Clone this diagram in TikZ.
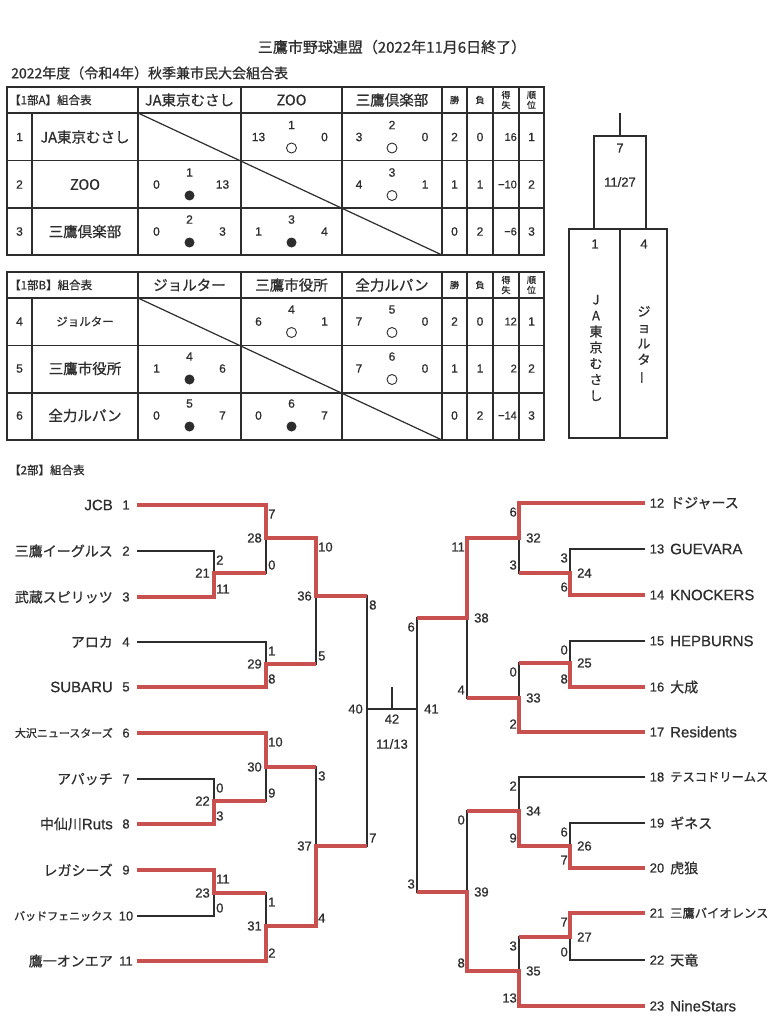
\documentclass[tikz,border=0pt]{standalone}
\usepackage{fontspec}
\setmainfont{Liberation Sans}[FakeBold=0.7]
\newfontfamily\jp{Noto Sans CJK JP}[FakeBold=0.7]
\usetikzlibrary{calc}
\definecolor{ink}{RGB}{45,45,45}
\definecolor{winred}{RGB}{200,80,78}
\newcommand\lat{\normalfont\fontsize{15}{15}\selectfont}
\newcommand\sm{\fontsize{11}{11}\selectfont}
\newcommand\nar{\fontsize{12.3}{12.3}\selectfont}
\tikzset{
	txt/.style={text=ink, inner sep=0pt},
	sc/.style={txt, font=\fontsize{12}{12}\selectfont},
	gno/.style={txt, font=\fontsize{13}{13}\selectfont},
	tname/.style={txt, font=\jp\fontsize{14}{14}\selectfont},
	hdr/.style={txt, font=\jp\fontsize{14.5}{14.5}\selectfont},
	mini/.style={txt, font=\jp\fontsize{9}{10}\selectfont, align=center},
	tabline/.style={line width=1.2pt, draw=ink},
	ln/.style={line width=1.1pt, draw=ink},
	win/.style={line width=3.8pt, draw=winred},
	won/.style={circle, draw=ink, line width=0.9pt, minimum size=10pt, inner sep=0pt},
	lost/.style={circle, fill=ink, minimum size=10pt, inner sep=0pt},
}
% table frame, #1 = top
\newcommand\tabframe[1]{%
	\draw[tabline] (7,#1) rectangle (544,#1+168);
	\draw[tabline] (7,#1+26) -- (544,#1+26);
	\draw[tabline] (7,#1+73.5) -- (544,#1+73.5);
	\draw[tabline] (7,#1+121) -- (544,#1+121);
	\draw[tabline] (32,#1+26) -- (32,#1+168);
	\foreach \cx in {138,241,342,442,467,493,519} \draw[tabline] (\cx,#1) -- (\cx,#1+168);
	\draw[tabline] (138,#1+26) -- (442,#1+168);
}
% one game cell: name, cx, cy, left, game, right, mark
\newcommand\game[7]{%
	\node[sc] (#1-no) at (#2,#3-12) {#5};
	\node[sc] (#1-l) at (#2-33,#3) {#4};
	\node[sc] (#1-r) at (#2+33,#3) {#6};
	\node[#7] (#1-mk) at (#2,#3+11) {};
}
\newcommand\stats[6]{%
	\node[sc] (#1-w) at (454.5,#2) {#3};
	\node[sc] (#1-d) at (480,#2) {#4};
	\node[sc, font=\fontsize{11}{11}\selectfont, anchor=east] (#1-p) at (517,#2) {#5};
	\node[sc] (#1-k) at (531.5,#2) {#6};
}
% teams of the bracket
\newcommand\lteam[3]{%
	\coordinate (t#1) at (137,#2);
	\node[gno] (tn#1) at (126,#2) {#1};
	\node[tname, anchor=east] (tm#1) at (113,#2) {#3};
}
\newcommand\rteam[3]{%
	\coordinate (t#1) at (645,#2);
	\node[gno] (tn#1) at (657,#2) {#1};
	\node[tname, anchor=west] (tm#1) at (670,#2) {#3};
}
% games of the bracket: x, top y, join y, bottom y, game, top score, bottom score
\newcommand\lbout[7]{%
	\coordinate (m#5) at (#1,#3);
	\node[gno, anchor=east] (g#5) at (#1-4,#3) {#5};
	\node[gno, anchor=west] (g#5a) at (#1+2,#2+9) {#6};
	\node[gno, anchor=west] (g#5b) at (#1+2,#4-8) {#7};
}
\newcommand\rbout[7]{%
	\coordinate (m#5) at (#1,#3);
	\node[gno, anchor=west] (g#5) at (#1+7,#3) {#5};
	\node[gno, anchor=east] (g#5a) at (#1-2,#2+9) {#6};
	\node[gno, anchor=east] (g#5b) at (#1-2,#4-8) {#7};
}

\begin{document}
\begin{tikzpicture}[x=1pt,y=-1pt]
		%%%%% START %%%%%
		\fill[white] (0,0) rectangle (771,1024);
		\useasboundingbox (0,0) rectangle (771,1024);
		
		\node[txt, font=\jp\fontsize{15}{15}\selectfont] (title) at (392,47) {三鷹市野球連盟（2022年11月6日終了）};
		\node[txt, font=\jp\fontsize{14}{14}\selectfont, anchor=west] (subtitle) at (11,73) {2022年度（令和4年）秋季兼市民大会組合表};
		
		%%%%% 1部A %%%%%
		\tabframe{87}
		\node[txt, font=\jp\fontsize{11.5}{11.5}\selectfont, anchor=west] (ahead) at (9,100) {【1部A】組合表};
		\node[hdr] (ac1) at (189.5,100) {JA東京むさし};
		\node[hdr] (ac2) at (291.5,100) {ZOO};
		\node[hdr] (ac3) at (392,100) {三鷹倶楽部};
		\node[mini] (awin) at (454.5,100) {勝};
		\node[mini] (alose) at (480,100) {負};
		\node[mini] (adiff) at (506,100) {得\\失};
		\node[mini] (arank) at (531.5,100) {順\\位};
		
		\node[sc] (a1) at (19.5,137) {1};
		\node[hdr] (a1nm) at (85,137) {JA東京むさし};
		\game{a12}{291.5}{137}{13}{1}{0}{won}
		\game{a13}{392}{137}{3}{2}{0}{won}
		\stats{a1}{137}{2}{0}{16}{1}
		
		\node[sc] (a2) at (19.5,184.5) {2};
		\node[hdr] (a2nm) at (85,184.5) {ZOO};
		\game{a21}{189.5}{184.5}{0}{1}{13}{lost}
		\game{a23}{392}{184.5}{4}{3}{1}{won}
		\stats{a2}{184.5}{1}{1}{−10}{2}
		
		\node[sc] (a3) at (19.5,231.5) {3};
		\node[hdr] (a3nm) at (85,231.5) {三鷹倶楽部};
		\game{a31}{189.5}{231.5}{0}{2}{3}{lost}
		\game{a32}{291.5}{231.5}{1}{3}{4}{lost}
		\stats{a3}{231.5}{0}{2}{−6}{3}
		
		%%%%% 1部B %%%%%
		\tabframe{272}
		\node[txt, font=\jp\fontsize{11.5}{11.5}\selectfont, anchor=west] (bhead) at (9,285) {【1部B】組合表};
		\node[hdr] (bc1) at (189.5,285) {ジョルター};
		\node[hdr] (bc2) at (291.5,285) {三鷹市役所};
		\node[hdr] (bc3) at (392,285) {全力ルパン};
		\node[mini] (bwin) at (454.5,285) {勝};
		\node[mini] (blose) at (480,285) {負};
		\node[mini] (bdiff) at (506,285) {得\\失};
		\node[mini] (brank) at (531.5,285) {順\\位};
		
		\node[sc] (b4) at (19.5,321.5) {4};
		\node[hdr, font=\jp\fontsize{11.5}{11.5}\selectfont] (b4nm) at (85,321.5) {ジョルター};
		\game{b45}{291.5}{321.5}{6}{4}{1}{won}
		\game{b46}{392}{321.5}{7}{5}{0}{won}
		\stats{b4}{321.5}{2}{0}{12}{1}
		
		\node[sc] (b5) at (19.5,368.5) {5};
		\node[hdr] (b5nm) at (85,368.5) {三鷹市役所};
		\game{b54}{189.5}{368.5}{1}{4}{6}{lost}
		\game{b56}{392}{368.5}{7}{6}{0}{won}
		\stats{b5}{368.5}{1}{1}{2}{2}
		
		\node[sc] (b6) at (19.5,415.5) {6};
		\node[hdr] (b6nm) at (85,415.5) {全力ルパン};
		\game{b64}{189.5}{415.5}{0}{5}{7}{lost}
		\game{b65}{291.5}{415.5}{0}{6}{7}{lost}
		\stats{b6}{415.5}{0}{2}{−14}{3}
		
		%%%%% 1部 final %%%%%
		\draw[tabline] (620,113) -- (620,136);
		\draw[tabline] (594,136) rectangle (646,229);
		\draw[tabline] (569,229) rectangle (667,438);
		\draw[tabline] (620,229) -- (620,438);
		\node[gno] (f7) at (620,148) {7};
		\node[gno] (fday) at (620,182) {11/27};
		\node[gno] (f1) at (595,244) {1};
		\node[gno] (f4) at (644,244) {4};
		\node[txt, font=\jp\fontsize{13}{16}\selectfont, align=center] (fja) at (596,348) {J\\A\\東\\京\\む\\さ\\し};
		\node[txt, font=\jp\fontsize{13}{16}\selectfont, align=center] (fjo) at (644,345) {ジ\\ョ\\ル\\タ\\\rotatebox[origin=c]{90}{ー}};
		
		%%%%% 2部 %%%%%
		\node[txt, font=\jp\fontsize{11.5}{11.5}\selectfont, anchor=west] (div2) at (9,470) {【2部】組合表};
		
		\lteam{1}{505}{\lat JCB}
		\lteam{2}{551}{三鷹イーグルス}
		\lteam{3}{597}{武蔵スピリッツ}
		\lteam{4}{642}{アロカ}
		\lteam{5}{687}{\lat SUBARU}
		\lteam{6}{733}{\sm 大沢ニュースターズ}
		\lteam{7}{779}{アパッチ}
		\lteam{8}{824}{中仙川\lat Ruts}
		\lteam{9}{870}{レガシーズ}
		\lteam{10}{916}{\sm バッドフェニックス}
		\lteam{11}{961}{鷹一オンエア}
		
		\rteam{12}{503}{ドジャース}
		\rteam{13}{549}{\lat GUEVARA}
		\rteam{14}{595}{\lat KNOCKERS}
		\rteam{15}{641}{\lat HEPBURNS}
		\rteam{16}{687}{大成}
		\rteam{17}{732}{\lat Residents}
		\rteam{18}{777}{\nar テスコドリームス}
		\rteam{19}{823}{ギネス}
		\rteam{20}{868}{虎狼}
		\rteam{21}{913}{\nar 三鷹バイオレンス}
		\rteam{22}{960}{天竜}
		\rteam{23}{1006}{\lat NineStars}
		
		\lbout{214}{551}{573}{597}{21}{2}{11}
		\lbout{214}{779}{801}{824}{22}{0}{3}
		\lbout{214}{870}{893}{916}{23}{11}{0}
		\lbout{266}{505}{538}{573}{28}{7}{0}
		\lbout{266}{642}{664}{687}{29}{1}{8}
		\lbout{266}{733}{767}{801}{30}{10}{9}
		\lbout{266}{893}{926}{961}{31}{1}{2}
		\lbout{316}{538}{596}{664}{36}{10}{5}
		\lbout{316}{767}{846}{926}{37}{3}{4}
		\lbout{367}{596}{709}{846}{40}{8}{7}
		
		\rbout{570}{549}{573}{595}{24}{3}{6}
		\rbout{570}{641}{663}{687}{25}{0}{8}
		\rbout{570}{823}{846}{868}{26}{6}{7}
		\rbout{570}{913}{937}{960}{27}{7}{0}
		\rbout{519}{503}{538}{573}{32}{6}{3}
		\rbout{519}{663}{698}{732}{33}{0}{2}
		\rbout{519}{777}{811}{846}{34}{2}{9}
		\rbout{519}{937}{971}{1006}{35}{3}{13}
		\rbout{467}{538}{618}{698}{38}{11}{4}
		\rbout{467}{811}{892}{971}{39}{0}{8}
		\rbout{417}{618}{709}{892}{41}{6}{3}
		
		\coordinate (m42) at (392,709);
		\coordinate (m42top) at (392,687);
		\node[gno] (g42) at (392,719) {42};
		\node[gno] (g42day) at (392,744) {11/13};
		
		% black lines
		\draw[ln] (t2) -| (m21) (t3) -| (m21);
		\draw[ln] (t7) -| (m22) (t8) -| (m22);
		\draw[ln] (t9) -| (m23) (t10) -| (m23);
		\draw[ln] (t1) -| (m28) (m21) -| (m28);
		\draw[ln] (t4) -| (m29) (t5) -| (m29);
		\draw[ln] (t6) -| (m30) (m22) -| (m30);
		\draw[ln] (m23) -| (m31) (t11) -| (m31);
		\draw[ln] (m28) -| (m36) (m29) -| (m36);
		\draw[ln] (m30) -| (m37) (m31) -| (m37);
		\draw[ln] (m36) -| (m40) (m37) -| (m40);
		
		\draw[ln] (t13) -| (m24) (t14) -| (m24);
		\draw[ln] (t15) -| (m25) (t16) -| (m25);
		\draw[ln] (t19) -| (m26) (t20) -| (m26);
		\draw[ln] (t21) -| (m27) (t22) -| (m27);
		\draw[ln] (t12) -| (m32) (m24) -| (m32);
		\draw[ln] (m25) -| (m33) (t17) -| (m33);
		\draw[ln] (t18) -| (m34) (m26) -| (m34);
		\draw[ln] (m27) -| (m35) (t23) -| (m35);
		\draw[ln] (m32) -| (m38) (m33) -| (m38);
		\draw[ln] (m34) -| (m39) (m35) -| (m39);
		\draw[ln] (m38) -| (m41) (m39) -| (m41);
		
		\draw[ln] (m40) -- (m41);
		\draw[ln] (m42) -- (m42top);
		
		% winners
		\draw[win] (t3) -| (m21) -- (m21 -| m28);
		\draw[win] (t8) -| (m22) -- (m22 -| m30);
		\draw[win] (t9) -| (m23) -- (m23 -| m31);
		\draw[win] (t1) -| (m28) -- (m28 -| m36);
		\draw[win] (t5) -| (m29) -- (m29 -| m36);
		\draw[win] (t6) -| (m30) -- (m30 -| m37);
		\draw[win] (t11) -| (m31) -- (m31 -| m37);
		\draw[win] (m28) -| (m36) -- (m36 -| m40);
		\draw[win] (m31) -| (m37) -- (m37 -| m40);
		
		\draw[win] (t14) -| (m24) -- (m24 -| m32);
		\draw[win] (t16) -| (m25) -- (m25 -| m33);
		\draw[win] (t20) -| (m26) -- (m26 -| m34);
		\draw[win] (t21) -| (m27) -- (m27 -| m35);
		\draw[win] (t12) -| (m32) -- (m32 -| m38);
		\draw[win] (t17) -| (m33) -- (m33 -| m38);
		\draw[win] (m26) -| (m34) -- (m34 -| m39);
		\draw[win] (t23) -| (m35) -- (m35 -| m39);
		\draw[win] (m32) -| (m38) -- (m38 -| m41);
		\draw[win] (m35) -| (m39) -- (m39 -| m41);
		
		%%%%% END %%%%%
	\end{tikzpicture}
\end{document}
